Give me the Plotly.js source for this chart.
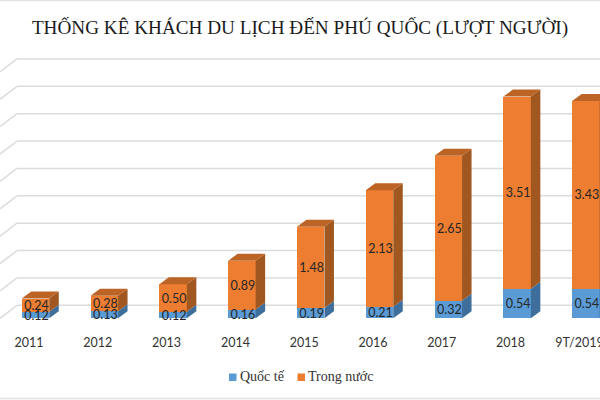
<!DOCTYPE html>
<html><head><meta charset="utf-8">
<script src="https://cdn.plot.ly/plotly-3.0.1.min.js"></script>
<style>html,body{margin:0;padding:0;background:#fff}</style></head>
<body><div id="chart" style="width:600px;height:400px"></div>
<script>
const categories = ["2011","2012","2013","2014","2015","2016","2017","2018","9T/2019"];
const quocTe = [0.12,0.13,0.12,0.16,0.19,0.21,0.32,0.54,0.54];
const trongNuoc = [0.24,0.28,0.50,0.89,1.48,2.13,2.65,3.51,3.43];
const gridValues = [0,0.5,1,1.5,2,2.5,3,3.5,4,4.5];
const seriesNames = ["Quốc tế","Trong nước"];
const seriesColors = ["#5B9BD5","#ED7D31"];

const pitch = 68.8, unit = 54.75, baseY = 318.3, firstX = 35.5, plotBottom = 333;
const idx = categories.map((_, i) => i);
const barW = 27.5 / pitch, dx = 9.5 / pitch, dy = 7 / unit;
const wallDx = 17 / pitch, wallDy = 13 / unit;
const labelDrop = 1.5 / unit;
const xMin = -firstX / pitch, xMax = (600 - firstX) / pitch;

function sideFaces(lo, hi) {
  const x = [], y = [];
  idx.forEach(i => {
    const r = i + barW / 2;
    x.push(r, r + dx, r + dx, r, r, null);
    y.push(lo[i], lo[i] + dy, hi[i] + dy, hi[i], lo[i], null);
  });
  return {x, y};
}
function topFaces(h) {
  const x = [], y = [];
  idx.forEach(i => {
    const l = i - barW / 2, r = i + barW / 2;
    x.push(l, r, r + dx, l + dx, l, null);
    y.push(h[i], h[i], h[i] + dy, h[i] + dy, h[i], null);
  });
  return {x, y};
}
function poly(f, color) {
  return {type:"scatter", mode:"lines", x:f.x, y:f.y, fill:"toself", fillcolor:color,
          line:{width:0, color:color}, showlegend:false, hoverinfo:"skip"};
}
const zeros = idx.map(() => 0);
const totals = idx.map(i => quocTe[i] + trongNuoc[i]);

const labelFont = {family:"Lato, 'Open Sans', sans-serif", size:12.5, color:"#262626"};
function labels(mid, vals) {
  return {type:"scatter", mode:"text", x:idx.map(i => i + 1 / pitch), y:mid.map(m => m - labelDrop),
          text:vals.map(v => v.toFixed(2)),
          textposition:"middle center", textfont:labelFont, showlegend:false, hoverinfo:"skip", cliponaxis:false};
}
const traces = [
  {type:"bar", name:seriesNames[0], x:idx, y:quocTe, width:barW, marker:{color:seriesColors[0]}, showlegend:false, hoverinfo:"y"},
  {type:"bar", name:seriesNames[1], x:idx, y:trongNuoc, width:barW, marker:{color:seriesColors[1]}, showlegend:false, hoverinfo:"y"},
  poly(sideFaces(zeros, quocTe), "#3E6E9B"),
  poly(sideFaces(quocTe, totals), "#A05720"),
  poly(topFaces(totals), "#BC6425"),
  labels(idx.map(i => quocTe[i] + trongNuoc[i] / 2), trongNuoc),
  labels(idx.map(i => quocTe[i] / 2), quocTe)
];

const gridColor = "#DCDCDC";
const toPaper = py => 1 - py / plotBottom;
const shapes = [];
gridValues.forEach(v => {
  const back = v + wallDy;
  shapes.push({type:"line", layer:"below", xref:"x", yref:"y", x0:xMin + wallDx, x1:xMax, y0:back, y1:back,
               line:{color:gridColor, width:1.5}});
  shapes.push({type:"line", layer:"below", xref:"x", yref:"y", x0:xMin, x1:xMin + wallDx, y0:v, y1:back,
               line:{color:gridColor, width:1.5}});
});
[0.5, 398.5].forEach(py => shapes.push({type:"line", xref:"paper", yref:"paper", x0:0, x1:1,
  y0:toPaper(py), y1:toPaper(py), line:{color:"#E3E3E3", width:1.5}}));

const legendSwatchX = [229, 297.5], legendTextX = [240, 308], legendY = 377;
const annotations = [];
seriesNames.forEach((n, k) => {
  shapes.push({type:"rect", xref:"paper", yref:"paper", x0:legendSwatchX[k] / 600, x1:(legendSwatchX[k] + 7.5) / 600,
               y0:toPaper(legendY + 4), y1:toPaper(legendY - 3.5), fillcolor:seriesColors[k], line:{width:0}});
  annotations.push({xref:"paper", yref:"paper", x:legendTextX[k] / 600, y:toPaper(legendY), xanchor:"left", yanchor:"middle",
                    text:n, showarrow:false, borderpad:0, xshift:-1,
                    font:{family:"'Liberation Serif', serif", size:14, color:"#333"}});
});

const layout = {
  width:600, height:400, barmode:"stack", showlegend:false,
  paper_bgcolor:"#fff", plot_bgcolor:"rgba(0,0,0,0)",
  margin:{l:0, r:0, t:0, b:400 - plotBottom, pad:0},
  title:{text:"THỐNG KÊ KHÁCH DU LỊCH ĐẾN PHÚ QUỐC (LƯỢT NGƯỜI)",
         font:{family:"'Liberation Serif', serif", size:19.2, color:"#1a1a1a"},
         x:0.5, xanchor:"center", y:1 - 27 / 400, yanchor:"middle"},
  xaxis:{type:"linear", range:[xMin, xMax], tickmode:"array",
         tickvals:idx.map(i => i - 6.5 / pitch), ticktext:categories, ticks:"",
         ticklabeloverflow:"allow", showgrid:false, zeroline:false, showline:false,
         tickfont:{family:"Lato, 'Open Sans', sans-serif", size:12.5, color:"#333"}},
  yaxis:{range:[-(plotBottom - baseY) / unit, baseY / unit], visible:false, showgrid:false, zeroline:false},
  shapes:shapes, annotations:annotations
};
Plotly.newPlot("chart", traces, layout, {displayModeBar:false, staticPlot:true});
</script></body></html>
